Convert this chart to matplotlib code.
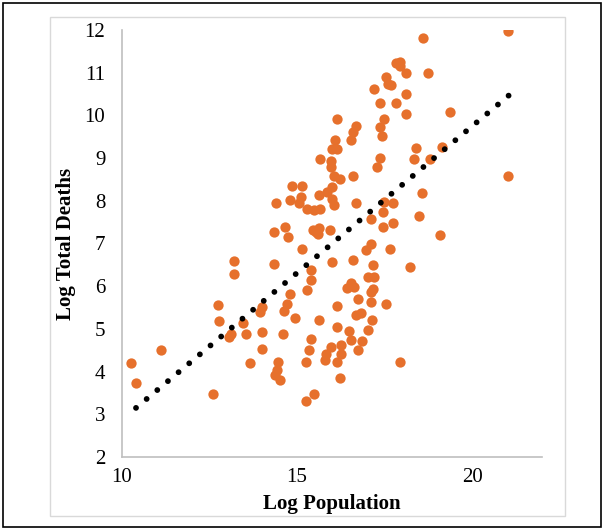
import matplotlib.pyplot as plt
from matplotlib.patches import Rectangle

# log population / log total deaths
log_pop = [10.26, 10.40, 11.12, 12.60, 12.74, 12.76, 13.19, 13.19, 13.06, 13.12,
           13.46, 13.54, 13.65, 13.94, 13.99, 13.99, 13.99, 14.33, 14.35, 14.40,
           14.66, 14.73, 14.81, 14.85, 15.14, 15.05, 15.10, 14.59, 14.64, 14.72,
           14.81, 14.95, 14.47, 14.42, 14.37, 14.52, 15.14, 15.41, 15.41, 15.29,
           15.29, 15.48, 15.67, 15.62, 15.86, 16.01, 15.45, 15.55, 15.63, 15.60,
           15.94, 16.06, 16.01, 15.62, 16.13, 16.13, 15.41, 15.34, 15.27, 15.96,
           15.82, 15.79, 16.27, 16.25, 16.13, 16.23, 15.48, 15.27, 15.67, 15.96,
           15.96, 16.01, 16.15, 16.09, 16.15, 16.06, 16.23, 16.61, 16.54, 16.59,
           16.68, 16.68, 16.61, 16.42, 16.55, 16.62, 16.75, 16.68, 16.82, 16.49,
           16.54, 16.87, 16.75, 17.02, 17.13, 17.10, 17.12, 17.55, 17.16, 17.02,
           17.21, 17.16, 17.10, 16.97, 17.67, 17.45, 17.74, 17.12, 17.45, 17.74,
           17.48, 18.49, 19.09, 18.22, 17.93, 18.56, 17.28, 17.36, 18.34, 18.80,
           18.41, 19.15, 17.42, 17.36, 17.48, 18.12, 19.36, 17.36, 17.82, 18.12,
           17.21, 17.60, 17.69, 17.55, 18.10, 18.75, 17.84, 17.93, 17.95, 18.60,
           21.03, 21.03, 15.99]
log_deaths = [4.19, 3.74, 4.50, 3.47, 5.57, 5.18, 6.60, 6.29, 4.81, 4.87,
              5.14, 4.89, 4.19, 5.40, 5.52, 4.93, 4.54, 6.51, 7.26, 7.94,
              7.38, 7.16, 8.02, 8.35, 8.35, 7.94, 8.08, 4.89, 5.43, 5.59,
              5.81, 5.26, 4.23, 4.03, 3.92, 3.80, 6.87, 6.39, 6.14, 5.90,
              7.81, 7.79, 7.81, 8.14, 8.20, 8.32, 7.32, 7.28, 7.36, 7.22,
              7.32, 7.89, 6.56, 5.20, 5.53, 5.04, 4.77, 4.50, 4.23, 4.58,
              4.42, 4.27, 4.62, 4.42, 4.23, 3.84, 3.47, 3.31, 8.99, 8.94,
              8.78, 9.21, 9.21, 9.42, 9.92, 8.57, 8.51, 8.57, 9.42, 9.60,
              9.76, 7.96, 6.62, 5.96, 6.08, 5.98, 5.71, 5.32, 5.37, 4.94,
              4.73, 4.72, 4.50, 4.98, 5.20, 5.63, 5.86, 5.59, 6.49, 6.21,
              6.21, 5.94, 6.99, 6.84, 6.87, 7.38, 7.47, 7.58, 7.73, 7.96,
              7.98, 7.65, 7.21, 6.45, 4.23, 8.18, 8.78, 9.00, 8.99, 8.99,
              9.23, 9.27, 9.52, 9.72, 9.92, 10.03, 10.08, 10.30, 10.30, 10.50,
              10.61, 10.73, 10.72, 10.90, 11.00, 11.00, 11.22, 11.15, 11.25, 11.82,
              11.98, 8.57, 8.05]

# linear trendline end points
trend_x = [10.40, 21.07]
trend_y = [3.15, 10.48]

plt.rcParams['font.family'] = ['Liberation Serif', 'DejaVu Serif']

fig = plt.figure(figsize=(6.05, 5.29), dpi=100)

# outer black frame and light grey chart-area border
fig.patches.append(Rectangle((3 / 605, 2 / 529), 598 / 605, 524 / 529,
                             transform=fig.transFigure, fill=False,
                             edgecolor='black', linewidth=1.2))
fig.patches.append(Rectangle((50 / 605, 13 / 529), 515 / 605, 499 / 529,
                             transform=fig.transFigure, fill=False,
                             edgecolor='#d9d9d9', linewidth=1))

ax = fig.add_axes([122 / 605, 72 / 529, 420 / 605, 427 / 529])

ax.scatter(log_pop, log_deaths, s=55, color='#E6702C', linewidths=0, zorder=2)
ax.plot(trend_x, trend_y, color='black', linewidth=4.2,
        linestyle=(0, (0.001, 2.38)), dash_capstyle='round', zorder=3)

ax.set_xlim(10, 22)
ax.set_ylim(2, 12)
ax.set_xticks([10, 15, 20])
ax.set_yticks(range(2, 13))

for side in ['top', 'right']:
    ax.spines[side].set_visible(False)
for side in ['left', 'bottom']:
    ax.spines[side].set_color('#bfbfbf')
    ax.spines[side].set_linewidth(1.2)

ax.tick_params(length=0, labelsize=15)
ax.tick_params(axis='y', pad=12)
ax.tick_params(axis='x', pad=8)

ax.set_xlabel('Log Population', fontsize=15, fontweight='bold', labelpad=5)
ax.set_ylabel('Log Total Deaths', fontsize=15, fontweight='bold', labelpad=6)

fig.savefig('out.png', dpi=100)
